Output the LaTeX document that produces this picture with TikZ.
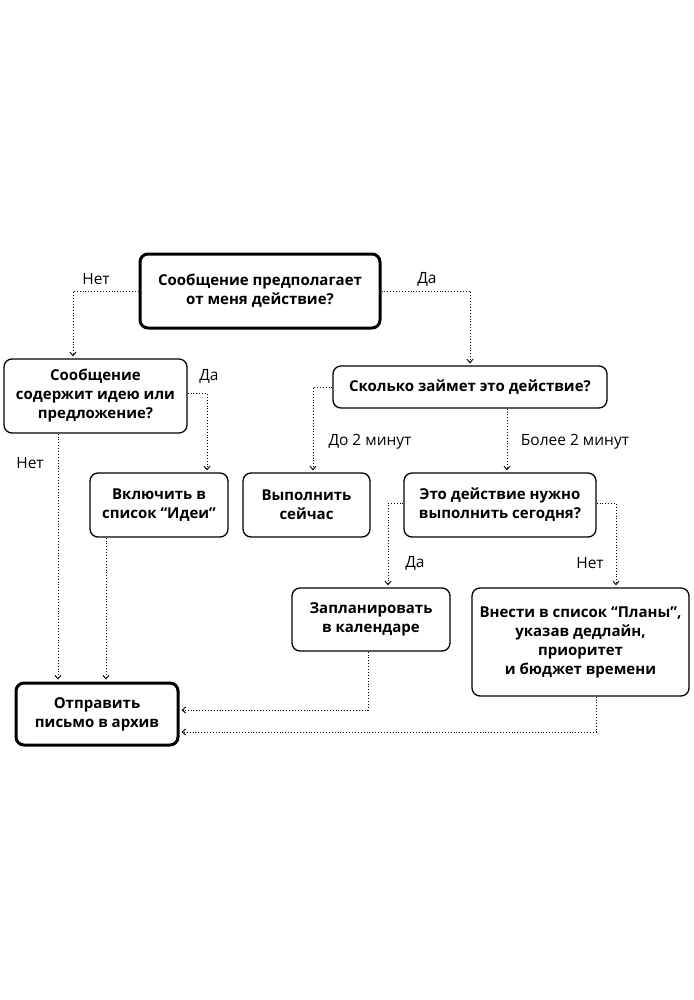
\documentclass[tikz,border=0pt]{standalone}
\usepackage{fontspec}
\setmainfont{Open Sans}
\usetikzlibrary{arrows.meta}
\begin{document}
\begin{tikzpicture}[x=1pt,y=-1pt,
  box/.style={draw=black,line width=1.3pt,rounded corners=8pt,align=center,font=\bfseries\fontsize{15}{19}\selectfont,inner sep=0pt},
  bigbox/.style={box,line width=3pt},
  flow/.style={dotted,line width=0.9pt,-{Straight Barb[length=3.5pt,width=6pt]},shorten >=2pt},
  lbl/.style={font=\fontsize{15.5}{18}\selectfont,inner sep=0pt}]
\useasboundingbox (0,0) rectangle (693,1000);
\fill[white] (0,0) rectangle (693,1000);
\node[bigbox,minimum width=240pt,minimum height=74pt] (b1) at (260,291) {Сообщение предполагает\\от меня действие?};
\node[box,minimum width=183pt,minimum height=74pt] (b2) at (95.5,396) {Сообщение\\содержит идею или\\предложение?};
\node[box,minimum width=274pt,minimum height=42pt] (b3) at (470,387) {Сколько займет это действие?};
\node[box,minimum width=138pt,minimum height=64pt] (b4) at (159,505) {Включить в\\список “Идеи”};
\node[box,minimum width=127pt,minimum height=64pt] (b5) at (306.5,505) {Выполнить\\сейчас};
\node[box,minimum width=192pt,minimum height=64pt] (b6) at (500,505) {Это действие нужно\\выполнить сегодня?};
\node[box,minimum width=158pt,minimum height=63pt] (b7) at (371,619.5) {Запланировать\\в календаре};
\node[box,minimum width=217pt,minimum height=108pt] (b8) at (580.5,642) {Внести в список “Планы”,\\указав дедлайн,\\приоритет\\и бюджет времени};
\node[bigbox,minimum width=162pt,minimum height=62pt] (b9) at (97,714) {Отправить\\письмо в архив};

\coordinate (k1) at (73,0);
\coordinate (k2) at (207,393);
\coordinate (k3) at (58,0);
\coordinate (k4) at (106,0);
\coordinate (k5) at (313,0);
\coordinate (k6) at (507,0);
\coordinate (k7) at (388,503);
\coordinate (k8) at (616,503);
\coordinate (k9) at (368,710);
\coordinate (k10) at (596,732);

\draw[flow] (b1.west) -| (b2.north -| k1);
\draw[flow] (b1.east) -| (b3.north);
\draw[flow] (b2.east |- k2) -| (b4.north -| k2);
\draw[flow] (b2.south -| k3) -- (b9.north -| k3);
\draw[flow] (b4.south -| k4) -- (b9.north -| k4);
\draw[flow] (b3.west) -| (b5.north -| k5);
\draw[flow] (b3.south -| k6) -- (b6.north -| k6);
\draw[flow] (b6.west |- k7) -| (b7.north -| k7);
\draw[flow] (b6.east |- k8) -| (b8.north -| k8);
\draw[flow] (b7.south -| k9) |- (b9.east |- k9);
\draw[flow] (b8.south -| k10) |- (b9.east |- k10);

\node[lbl] (l1) at (96,279) {Нет};
\node[lbl] (l2) at (427,279) {Да};
\node[lbl] (l3) at (209,376) {Да};
\node[lbl] (l4) at (30,463) {Нет};
\node[lbl] (l5) at (370,442) {До 2 минут};
\node[lbl] (l6) at (575,442) {Более 2 минут};
\node[lbl] (l7) at (415,563) {Да};
\node[lbl] (l8) at (590,563) {Нет};
\end{tikzpicture}
\end{document}
